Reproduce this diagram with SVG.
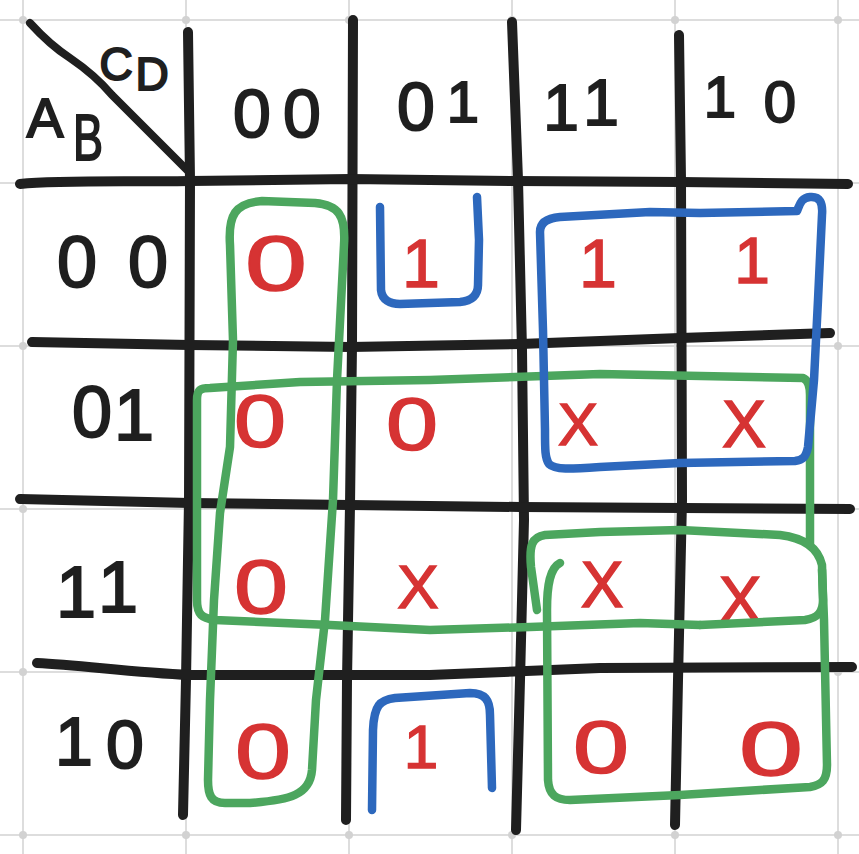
<svg xmlns="http://www.w3.org/2000/svg" width="859" height="854" viewBox="0 0 859 854">
<style>
.bg{stroke:#dddddd;stroke-width:2;fill:none}
.dot{fill:#d2d2d2}
.ink{stroke:#1f1f1f;stroke-width:10;fill:none;stroke-linecap:round;stroke-linejoin:round}
.thin{stroke-width:8}
.grn{stroke:#4ca65e;stroke-width:8.5;fill:none;stroke-linecap:round;stroke-linejoin:round}
.blu{stroke:#2d68bd;stroke-width:8.5;fill:none;stroke-linecap:round;stroke-linejoin:round}
.h{font-family:"Liberation Sans",Arial,sans-serif;fill:#1f1f1f;stroke:#1f1f1f;stroke-width:2;text-anchor:middle}
.v{font-family:"Liberation Sans",Arial,sans-serif;fill:#d63333;stroke:#d63333;stroke-width:1.5;text-anchor:middle}
</style>
<rect width="859" height="854" fill="#ffffff"/>
<g id="background-grid">
<path class="bg" d="M23,0V854M186,0V854M349,0V854M512,0V854M675,0V854M838,0V854M0,20H859M0,183H859M0,346H859M0,509H859M0,672H859M0,835H859"/>
<g class="dot">
<circle cx="23" cy="20" r="4"/><circle cx="186" cy="20" r="4"/><circle cx="349" cy="20" r="4"/><circle cx="512" cy="20" r="4"/><circle cx="675" cy="20" r="4"/><circle cx="838" cy="20" r="4"/>
<circle cx="23" cy="346" r="4"/><circle cx="838" cy="346" r="4"/><circle cx="23" cy="509" r="4"/><circle cx="838" cy="509" r="4"/><circle cx="23" cy="672" r="4"/><circle cx="838" cy="672" r="4"/>
<circle cx="23" cy="835" r="4"/><circle cx="186" cy="835" r="4"/><circle cx="349" cy="835" r="4"/><circle cx="512" cy="835" r="4"/><circle cx="675" cy="835" r="4"/><circle cx="838" cy="835" r="4"/>
</g>
</g>
<g id="table-lines">
<path class="ink thin" d="M30,23 Q50,45 70,58 Q95,75 112,95 L190,173"/>
<path class="ink" d="M188,32 L190,180 L189,500 L186,680 L183,815"/>
<path class="ink" d="M353,20 L352,345 L350,505 L347,680 L346,820"/>
<path class="ink" d="M512,22 L518,180 L522,350 L524,520 L520,680 L516,830"/>
<path class="ink" d="M679,35 L681,180 L682,500 L678,680 L675,825"/>
<path class="ink" d="M20,184 C60,180 120,182 190,181 L350,179 L515,181 L680,182 L848,184"/>
<path class="ink" d="M32,342 L190,345 L350,347 L520,344 L680,338 L830,333"/>
<path class="ink" d="M20,499 C40,500 100,501 190,503 L350,505 L520,507 L850,509"/>
<path class="ink" d="M37,663 C80,665 130,672 190,675 L430,675 L600,668 L852,667"/>
</g>
<g id="headers">
<text class="h" font-size="46" x="116 152" y="80 90">CD</text>
<text class="h" font-size="55" x="45" y="137">A</text>
<text class="h" font-size="64" x="88" y="160" textLength="30" lengthAdjust="spacingAndGlyphs">B</text>
<text class="h" font-size="68" x="252 302" y="137 137">00</text>
<text class="h" font-size="68" x="416" y="130">0<tspan x="463" y="122" font-size="58">1</tspan></text>
<text class="h" font-size="64" x="561 601" y="130 125">11</text>
<text class="h" font-size="58" x="720 780" y="117 122">10</text>
<text class="h" font-size="72" x="77 148" y="287 287">00</text>
<text class="h" font-size="72" x="92 134" y="437 440">01</text>
<text class="h" font-size="72" x="76 118" y="617 612">11</text>
<text class="h" font-size="68" x="74 125" y="765 768">10</text>
</g>
<g id="cell-values">
<text class="v" font-size="78" x="276" y="290" textLength="62" lengthAdjust="spacingAndGlyphs">0</text>
<text class="v" font-size="68" x="421" y="287">1</text>
<text class="v" font-size="68" x="598" y="287">1</text>
<text class="v" font-size="64" x="752" y="283">1</text>
<text class="v" font-size="74" x="260" y="447" textLength="52" lengthAdjust="spacingAndGlyphs">0</text>
<text class="v" font-size="74" x="412" y="450" textLength="52" lengthAdjust="spacingAndGlyphs">0</text>
<text class="v" font-size="60" x="578" y="445">X</text>
<text class="v" font-size="66" x="744" y="447">X</text>
<text class="v" font-size="76" x="261" y="613" textLength="54" lengthAdjust="spacingAndGlyphs">0</text>
<text class="v" font-size="62" x="418" y="608">X</text>
<text class="v" font-size="64" x="602" y="607">X</text>
<text class="v" font-size="64" x="740" y="622">X</text>
<text class="v" font-size="78" x="263" y="778" textLength="56" lengthAdjust="spacingAndGlyphs">0</text>
<text class="v" font-size="62" x="421" y="768">1</text>
<text class="v" font-size="74" x="601" y="773" textLength="56" lengthAdjust="spacingAndGlyphs">0</text>
<text class="v" font-size="76" x="771" y="775" textLength="64" lengthAdjust="spacingAndGlyphs">0</text>
</g>
<g id="groups">
<path id="g1" class="grn" d="M233,340 L230,245 C228,215 235,203 262,201 L315,203 C338,205 346,215 344,245 L337,380 L333,500 L325,620 L316,700 L312,770 C310,795 290,800 250,803 L225,803 C211,803 208,795 208,780 L210,700 L214,600 L220,513 L230,447 Z"/>
<path id="g2" class="grn" d="M197,400 C197,390 200,388 210,388 L300,382 L430,380 L600,374 L803,378 C808,380 810,385 810,395 L810,545 M197,400 L197,600 C197,615 202,618 215,620 L330,625 L430,630 L530,627 L640,623 L700,625"/>
<path id="g3" class="grn" d="M537,610 L531,567 C529,545 532,537 545,535 L600,532 L680,530 L780,535 C805,538 818,548 822,565 L823,600 C823,612 818,618 805,620 L700,625"/>
<path id="g4" class="grn" d="M560,563 C550,568 547,585 547,610 L548,780 C549,795 556,800 570,800 L680,795 L760,790 L810,787 C822,785 827,780 827,765 L824,620 L822,570"/>
<path id="b1" class="blu" d="M380,207 L381,290 C382,300 390,304 400,304 L460,302 C472,301 478,295 478,285 L479,240 L477,197"/>
<path id="b2" class="blu" d="M540,232 C540,222 548,218 560,217 L650,212 L700,213 L797,211 C800,204 801,198 810,197 C820,196 823,203 822,215 L818,300 L814,380 L808,447 C806,457 803,460 795,461 L680,463 L600,467 C570,469 555,470 549,464 C545,458 545,450 545,430 L543,330 Z"/>
<path id="b3" class="blu" d="M372,810 L373,730 C374,705 380,700 395,698 L470,693 C485,693 490,700 490,715 L492,788"/>
</g>
</svg>
